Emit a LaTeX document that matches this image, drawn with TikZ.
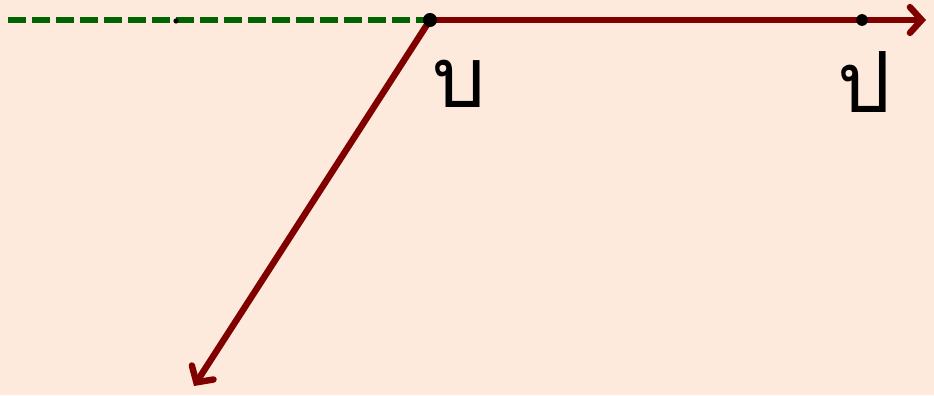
\documentclass[tikz,border=0pt]{standalone}
\usepackage{fontspec}
\newfontfamily\thaifont[Script=Thai]{Loma}
\usetikzlibrary{arrows.meta}
\definecolor{bgpeach}{RGB}{253,234,220}
\definecolor{rayred}{RGB}{128,0,0}
\definecolor{dashgreen}{RGB}{0,100,0}
\tikzset{
    rayline/.style={
        line width=5.5pt,
        rayred,
        line cap=round,
        -{Straight Barb[length=10pt,width=22pt,line cap=round]}
    },
    % เส้นประสีเขียว
    extline/.style={
        line width=5.5pt,
        dashgreen,
        dash pattern=on 15pt off 5.5pt
    },
    thailabel/.style={
        font=\thaifont\fontsize{72}{78}\selectfont,
        inner sep=0pt
    }
}
\begin{document}
\begin{tikzpicture}[x=0.03cm,y=-0.03cm]
    \fill[bgpeach] (0,0) rectangle (934,395);
    \useasboundingbox (0,0) rectangle (934,395);
    \path
        (8,20) coordinate (w)
        (176,21) coordinate (m)
        (430,20) coordinate (b)
        (862,20) coordinate (p)
        (926,20) coordinate (e)
        (194,386) coordinate (s)
        ;
    % ส่วนต่อเส้นประ
    \draw[extline] (w) -- (b);
    % รังสี
    \draw[rayline] (b) -- (e);
    \draw[rayline] (b) -- (s);
    % จุด
    \fill[black] (b) circle (6pt) (p) circle (5pt);
    \fill[black] (m) circle (2.2pt);
    % ชื่อจุด
    \node[thailabel] (lb) at (459,84) {บ};
    \node[thailabel] (lp) at (864,82) {ป};
\end{tikzpicture}
\end{document}
